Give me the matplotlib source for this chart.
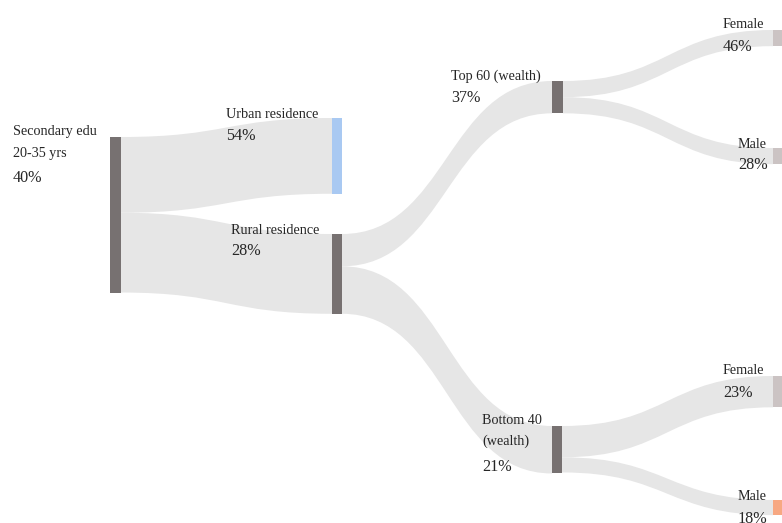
import matplotlib
matplotlib.use("Agg")
import matplotlib.pyplot as plt
from matplotlib.path import Path
from matplotlib.patches import PathPatch, Rectangle

# ---- data -------------------------------------------------------------
node_names = ["Secondary edu\n20-35 yrs", "Urban residence", "Rural residence",
              "Top 60 (wealth)", "Bottom 40\n(wealth)",
              "Female", "Male", "Female", "Male"]
node_pct = [40, 54, 28, 37, 21, 46, 28, 23, 18]
# flows: (source, target, weight)
link_source = [0, 0, 2, 2, 3, 3, 4, 4]
link_target = [1, 2, 3, 4, 5, 6, 7, 8]
link_weight = [75, 79, 32, 47, 16, 16, 31, 15]

# ---- layout & style ---------------------------------------------------
W, H = 782, 523
px_per_unit = 1.01
node_x = [110, 332, 332, 552, 552, 773, 773, 773, 773]
node_w = [11, 10, 10, 11, 10, 10, 10, 10, 10]
node_top = [137, 118, 234, 81, 426, 30, 148, 376, 500]
node_color = ["#777171", "#a9c9f2", "#777171", "#777171", "#777171",
              "#cbc3c3", "#cbc3c3", "#cbc3c3", "#f7a882"]
link_color = "#e6e6e6"
text_color = "#262626"

# label blocks: left x, y of name lines, y of percentage
label_x = [13, 226, 231, 451, 482, 723, 738, 723, 738]
name_y = [132, 114, 230, 76, 420, 25, 144, 371, 496]
pct_y = [178, 136, 251, 98, 467, 47, 165, 393, 519]
line_gap = 21

serif = ["Liberation Serif", "DejaVu Serif"]

fig = plt.figure(figsize=(W / 100, H / 100), dpi=100)
ax = fig.add_axes([0, 0, 1, 1])
ax.set_xlim(0, W)
ax.set_ylim(H, 0)
ax.axis("off")

# node value = max(inflow, outflow)
n = len(node_names)
inflow = [0] * n
outflow = [0] * n
for s, t, w in zip(link_source, link_target, link_weight):
    outflow[s] += w
    inflow[t] += w
node_val = [max(a, b) for a, b in zip(inflow, outflow)]

# links
out_off = [0.0] * n
in_off = [0.0] * n
for s, t, w in zip(link_source, link_target, link_weight):
    h = w * px_per_unit
    x0 = node_x[s] + node_w[s]
    x1 = node_x[t]
    y0t = node_top[s] + out_off[s]
    y1t = node_top[t] + in_off[t]
    out_off[s] += h
    in_off[t] += h
    y0b, y1b = y0t + h, y1t + h
    xm = (x0 + x1) / 2
    verts = [(x0, y0t), (xm, y0t), (xm, y1t), (x1, y1t),
             (x1, y1b),
             (xm, y1b), (xm, y0b), (x0, y0b),
             (x0, y0t)]
    codes = [Path.MOVETO, Path.CURVE4, Path.CURVE4, Path.CURVE4,
             Path.LINETO,
             Path.CURVE4, Path.CURVE4, Path.CURVE4,
             Path.CLOSEPOLY]
    ax.add_patch(PathPatch(Path(verts, codes), facecolor=link_color,
                           edgecolor="none", zorder=1))

# nodes
for i in range(n):
    ax.add_patch(Rectangle((node_x[i], node_top[i]), node_w[i],
                           node_val[i] * px_per_unit,
                           facecolor=node_color[i], edgecolor="none", zorder=2))

# labels
for i in range(n):
    for k, line in enumerate(node_names[i].split("\n")):
        ax.text(label_x[i], name_y[i] + k * line_gap, line, family=serif,
                fontsize=10.2, color=text_color, ha="left", va="center", zorder=3)
    ax.text(label_x[i], pct_y[i], f"{node_pct[i]}%", family=serif,
            fontsize=11.6, color=text_color, ha="left", va="center", zorder=3)

fig.savefig("out.png", dpi=100)
